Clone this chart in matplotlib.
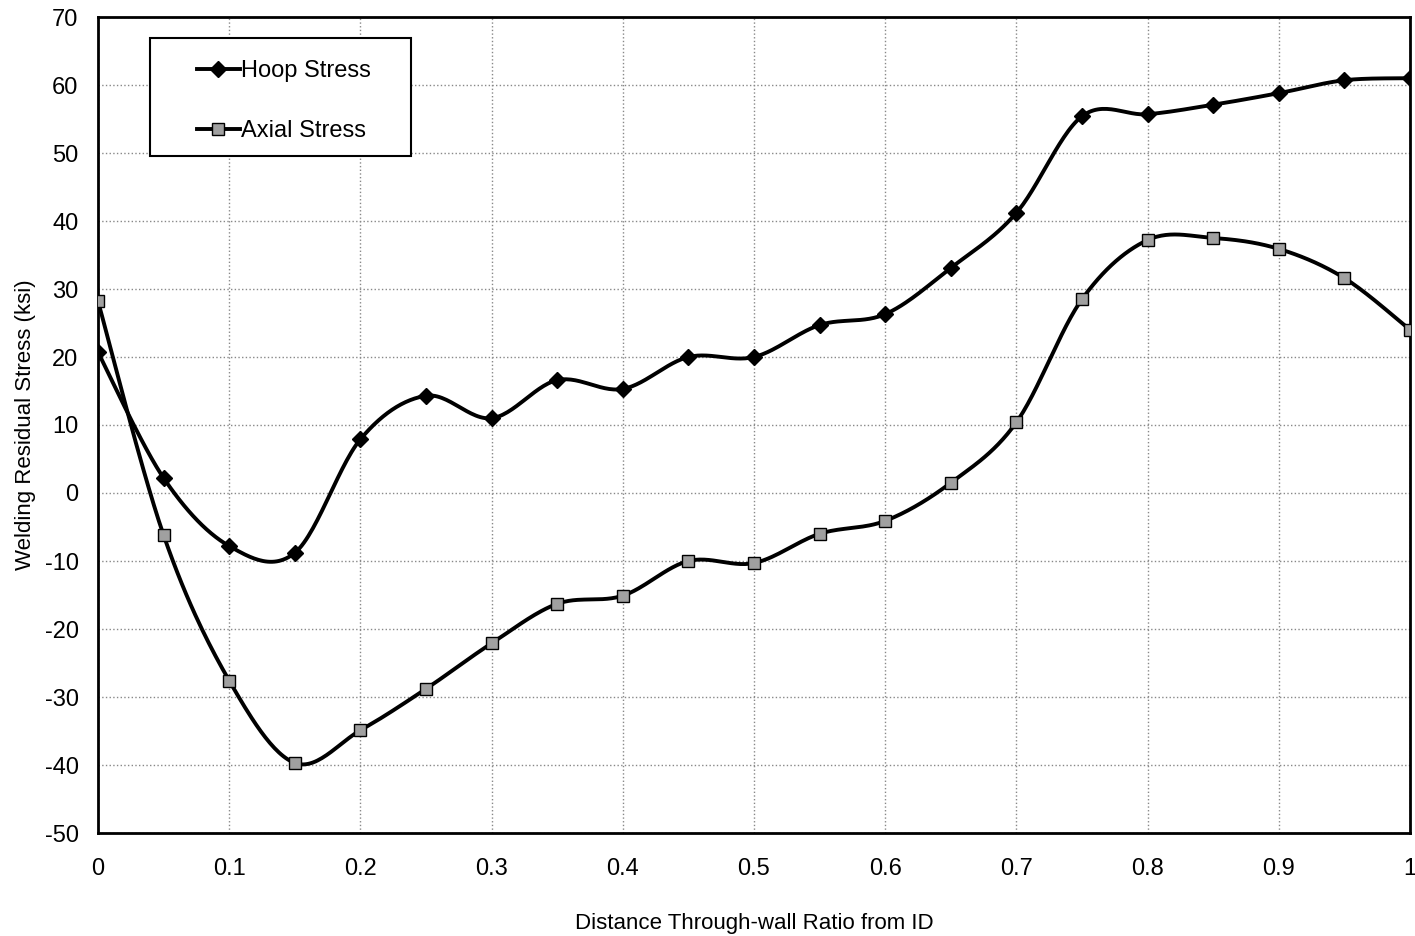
import matplotlib.pyplot as plt
import matplotlib.patches as mpatches
import numpy as np

plt.rcParams['font.family'] = ['Liberation Sans', 'DejaVu Sans']
plt.rcParams['axes.unicode_minus'] = False

ratio = [0, 0.05, 0.1, 0.15, 0.2, 0.25, 0.3, 0.35, 0.4, 0.45, 0.5,
         0.55, 0.6, 0.65, 0.7, 0.75, 0.8, 0.85, 0.9, 0.95, 1.0]
hoop = [20.7, 2.2, -7.8, -8.8, 7.9, 14.3, 11.0, 16.6, 15.3, 20.0, 20.0,
        24.7, 26.3, 33.1, 41.2, 55.4, 55.7, 57.1, 58.8, 60.7, 61.0]
axial = [28.2, -6.2, -27.6, -39.7, -34.9, -28.8, -22.1, -16.3, -15.1, -10.0, -10.3,
         -6.0, -4.1, 1.5, 10.4, 28.5, 37.2, 37.5, 35.9, 31.6, 24.0]


def smooth(x, y, n=30):
    # excel-like smoothed line (cardinal spline through bezier segments)
    x = np.asarray(x, float)
    y = np.asarray(y, float)
    xs, ys = [], []
    t = np.linspace(0, 1, n)
    for i in range(len(x) - 1):
        i0 = max(i - 1, 0)
        i3 = min(i + 2, len(x) - 1)
        p0 = np.array([x[i], y[i]])
        p3 = np.array([x[i + 1], y[i + 1]])
        p1 = p0 + (np.array([x[i + 1], y[i + 1]]) - np.array([x[i0], y[i0]])) / 6
        p2 = p3 - (np.array([x[i3], y[i3]]) - np.array([x[i], y[i]])) / 6
        b = ((1 - t) ** 3)[:, None] * p0 + (3 * (1 - t) ** 2 * t)[:, None] * p1 \
            + (3 * (1 - t) * t ** 2)[:, None] * p2 + (t ** 3)[:, None] * p3
        xs.extend(b[:, 0])
        ys.extend(b[:, 1])
    return np.array(xs), np.array(ys)


fig = plt.figure(figsize=(14.15, 9.36), dpi=100)
ax = fig.add_axes([98 / 1415, 1 - 833 / 936, (1410 - 98) / 1415, (833 - 17) / 936])

hx, hy = smooth(ratio, hoop)
ax.plot(hx, hy, color='black', lw=2.8, zorder=3)
ax.plot(ratio, hoop, 'D', color='black', ms=8, zorder=4)
ax.plot([], [], '-D', color='black', lw=2.8, ms=8, label='Hoop Stress')

axx, axy = smooth(ratio, axial)
ax.plot(axx, axy, color='black', lw=2.8, zorder=3)
ax.plot(ratio, axial, 's', color='#a0a0a0', mec='black', mew=1, ms=9, zorder=4)
ax.plot([], [], '-s', color='black', mfc='#a0a0a0', mec='black', lw=2.8, ms=9, label='Axial Stress')

ax.set_xlim(0, 1)
ax.set_ylim(-50, 70)
ax.set_xticks(np.arange(0, 1.01, 0.1))
ax.set_xticklabels(['0', '0.1', '0.2', '0.3', '0.4', '0.5', '0.6', '0.7', '0.8', '0.9', '1'])
ax.set_yticks(np.arange(-50, 71, 10))
ax.grid(True, color='#888888', ls=':', lw=1)
ax.tick_params(axis='x', length=0, labelsize=17, pad=18)
ax.tick_params(axis='y', length=0, labelsize=17, pad=14)
for s in ax.spines.values():
    s.set_linewidth(2)

ax.set_xlabel('Distance Through-wall Ratio from ID', fontsize=16, labelpad=24)
ax.set_ylabel('Welding Residual Stress (ksi)', fontsize=16, labelpad=6)

# legend box
box = mpatches.Rectangle((0.0396, 0.830), 0.199, 0.144, transform=ax.transAxes,
                         facecolor='white', edgecolor='black', lw=1.5, zorder=5)
ax.add_patch(box)
leg = ax.legend(loc='upper left', bbox_to_anchor=(0.0755, 0.947), fontsize=17, frameon=False,
                handlelength=1.8, handletextpad=0.05, labelspacing=1.6,
                borderpad=0, borderaxespad=0)
leg.set_zorder(6)

fig.savefig('out.png', dpi=100)
